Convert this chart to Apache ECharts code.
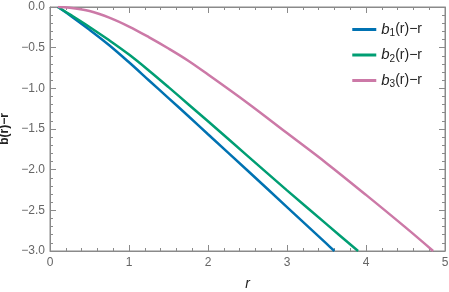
<!DOCTYPE html>
<html><head><meta charset="utf-8">
<script src="https://cdn.jsdelivr.net/npm/echarts@6/dist/echarts.min.js"></script>
<style>html,body{margin:0;padding:0;background:#fff}#c{width:449px;height:292px}</style>
</head><body><div id="c"></div>
<script>
const seriesNames = ['b1', 'b2', 'b3'];
const r1 = [0.1, 0.25, 0.5, 0.75, 1.0, 1.25, 1.5, 1.75, 2.0, 2.5, 3.0, 3.5, 3.6];
const v1 = [0, -0.10, -0.28, -0.47, -0.68, -0.90, -1.12, -1.34, -1.565, -2.01, -2.46, -2.91, -3.0];
const r2 = [0.1, 0.25, 0.5, 0.75, 1.0, 1.25, 1.5, 1.75, 2.0, 2.5, 3.0, 3.5, 3.9];
const v2 = [0, -0.09, -0.245, -0.41, -0.585, -0.78, -0.985, -1.195, -1.405, -1.83, -2.255, -2.67, -3.0];
const r3 = [0.1, 0.25, 0.5, 0.75, 1.0, 1.25, 1.5, 1.75, 2.0, 2.5, 3.0, 3.5, 4.0, 4.5, 4.85];
const v3 = [0, -0.01, -0.05, -0.13, -0.24, -0.37, -0.51, -0.66, -0.83, -1.18, -1.55, -1.92, -2.31, -2.71, -3.0];
const colors = ['#0072B2', '#009E73', '#CC79A7'];
const xTicks = [0, 1, 2, 3, 4, 5];
const yTicks = [-3.0, -2.5, -2.0, -1.5, -1.0, -0.5, 0.0];

const zip = (a, b) => a.map((x, i) => [x, b[i]]);
const axisCol = '#8a8a8a';
const labCol = '#666';
function baseX(pos) {
  return {
    type: 'value', min: 0, max: 5, interval: 1, gridIndex: 0, position: pos,
    axisLine: { show: true, onZero: false, lineStyle: { color: axisCol, width: 1 } },
    axisTick: { show: true, inside: true, length: 6, lineStyle: { color: axisCol, width: 1 } },
    minorTick: { show: true, splitNumber: 5, length: 3, lineStyle: { color: axisCol, width: 1 } },
    splitLine: { show: false }, minorSplitLine: { show: false }
  };
}
function baseY(pos) {
  return {
    type: 'value', min: -3, max: 0, interval: 0.5, gridIndex: 0, position: pos,
    axisLine: { show: true, onZero: false, lineStyle: { color: axisCol, width: 1 } },
    axisTick: { show: true, inside: true, length: 6, lineStyle: { color: axisCol, width: 1 } },
    minorTick: { show: true, splitNumber: 5, length: 3, lineStyle: { color: axisCol, width: 1 } },
    splitLine: { show: false }, minorSplitLine: { show: false }
  };
}
const chart = echarts.init(document.getElementById('c'));
chart.setOption({
  animation: false,
  grid: { left: 50, right: 4, top: 7, bottom: 41, containLabel: false, outerBoundsMode: 'none',
    show: true, borderColor: axisCol, borderWidth: 1, backgroundColor: 'transparent' },
  xAxis: [
    Object.assign(baseX('bottom'), {
      axisLabel: { color: labCol, fontSize: 12, fontFamily: 'Liberation Sans', margin: 6,
        formatter: v => xTicks.includes(v) ? String(v) : '' },
      name: 'r', nameLocation: 'middle', nameGap: 26,
      nameTextStyle: { fontStyle: 'italic', fontSize: 14, color: '#222', fontFamily: 'Liberation Sans' }
    }),
    Object.assign(baseX('top'), { axisLabel: { show: false } })
  ],
  yAxis: [
    Object.assign(baseY('left'), {
      axisLabel: { color: labCol, fontSize: 12, fontFamily: 'Liberation Sans', margin: 5,
        formatter: v => yTicks.some(t => Math.abs(t - v) < 1e-9) ? v.toFixed(1).replace('-', '\u2212') : '' },
      name: 'b(r)\u2212r', nameLocation: 'middle', nameGap: 33,
      nameTextStyle: { fontSize: 12, fontWeight: 'bold', color: '#222', fontFamily: 'Liberation Sans' }
    }),
    Object.assign(baseY('right'), { axisLabel: { show: false } })
  ],
  legend: {
    orient: 'vertical', right: 22, top: 17, itemGap: 9,
    icon: 'rect', itemWidth: 24, itemHeight: 3,
    data: seriesNames,
    formatter: n => '{i|b}{s|' + n.slice(1) + '}{n|(r)\u2212r}',
    textStyle: {
      color: '#222', fontFamily: 'Liberation Sans', fontSize: 14,
      rich: {
        i: { fontStyle: 'italic', fontSize: 15, fontFamily: 'Liberation Sans', color: '#222', height: 16 },
        s: { fontSize: 10, fontFamily: 'Liberation Sans', color: '#222', verticalAlign: 'bottom', padding: [8, 0, 0, 0] },
        n: { fontSize: 14, fontFamily: 'Liberation Sans', color: '#222', height: 16 }
      }
    }
  },
  series: [
    { name: seriesNames[0], type: 'line', data: zip(r1, v1), smooth: 0.35, showSymbol: false, symbol: 'none', lineStyle: { width: 2.5, color: colors[0] }, itemStyle: { color: colors[0] } },
    { name: seriesNames[1], type: 'line', data: zip(r2, v2), smooth: 0.35, showSymbol: false, symbol: 'none', lineStyle: { width: 2.5, color: colors[1] }, itemStyle: { color: colors[1] } },
    { name: seriesNames[2], type: 'line', data: zip(r3, v3), smooth: 0.35, showSymbol: false, symbol: 'none', lineStyle: { width: 2.5, color: colors[2] }, itemStyle: { color: colors[2] } }
  ]
});
</script></body></html>
